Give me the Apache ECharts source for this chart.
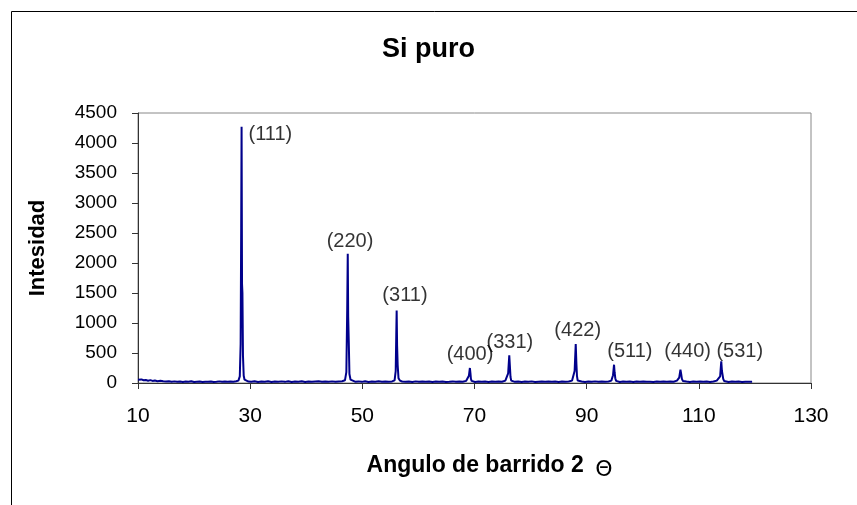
<!DOCTYPE html>
<html>
<head>
<meta charset="utf-8">
<script src="https://cdn.jsdelivr.net/npm/echarts@6/dist/echarts.min.js"></script>
<style>
html,body{margin:0;padding:0;background:#fff;}
#chart{width:857px;height:505px;}
</style>
</head>
<body>
<div id="chart"></div>
<script>
// Scan data: 2θ (degrees) and intensity
var twoTheta = [
 10.0,10.3,10.6,11.0,11.4,11.8,12.2,12.6,13.0,13.5,14.0,14.5,15.0,15.5,16.0,16.5,17.0,17.5,18.0,18.5,
 19.0,19.5,20.0,20.5,21.0,21.5,22.0,22.5,23.0,23.5,24.0,24.5,25.0,25.5,26.0,26.5,27.0,27.5,27.9,
 28.15,28.3,28.4,28.47,28.55,28.62,28.72,28.85,29.0,29.3,29.7,
 30.2,30.8,31.4,32.0,32.6,33.2,33.8,34.4,35.0,35.6,36.2,36.8,37.4,38.0,38.6,39.2,39.8,40.4,41.0,41.6,
 42.2,42.8,43.4,44.0,44.6,45.2,45.8,46.4,46.9,
 47.15,47.3,47.4,47.48,47.58,47.7,47.9,48.2,48.7,49.3,49.9,50.5,51.1,51.7,52.3,52.9,53.5,54.1,54.7,55.3,55.75,
 55.95,56.05,56.12,56.2,56.3,56.45,56.7,57.1,57.7,58.3,58.9,59.5,60.1,60.7,61.3,61.9,62.5,63.1,63.7,
 64.3,64.9,65.5,66.1,66.7,67.3,67.9,68.5,69.0,
 69.18,69.28,69.36,69.48,69.7,70.1,70.7,71.3,71.9,72.5,73.1,73.7,74.3,74.9,75.5,76.0,
 76.2,76.33,76.42,76.55,76.8,77.2,77.8,78.4,79.0,79.6,80.2,80.8,81.4,82.0,82.6,83.2,83.8,84.4,85.0,
 85.6,86.2,86.8,87.4,87.85,
 88.05,88.17,88.27,88.4,88.7,89.1,89.7,90.3,90.9,91.5,92.1,92.7,93.3,93.9,94.4,94.7,
 94.88,94.98,95.1,95.25,95.5,95.9,96.5,97.1,97.7,98.3,98.9,99.5,100.1,100.7,101.3,101.9,102.5,103.1,
 103.7,104.3,104.9,105.5,106.1,106.5,
 106.72,106.85,106.98,107.15,107.4,107.8,108.4,109.0,109.6,110.2,110.8,111.4,112.0,112.6,113.2,113.8,
 114.0,114.12,114.22,114.35,114.5,114.8,115.3,115.9,116.5,117.1,117.7,118.3,118.9,119.5,120.0
];
var intensity = [
 55,40,60,45,50,38,48,35,42,30,36,28,25,30,22,27,20,26,18,24,
 20,28,18,22,25,17,22,19,26,18,22,27,20,23,19,25,22,28,40,
 110,650,2600,4270,1650,1500,450,120,55,30,24,
 22,28,18,25,20,30,18,24,20,27,19,30,18,25,22,29,18,26,20,24,
 28,19,25,21,27,20,26,30,45,
 180,1200,2155,1100,700,150,55,30,22,27,19,30,18,25,22,28,20,24,19,26,45,
 200,800,1210,620,300,80,40,26,20,24,18,27,20,23,19,26,18,24,
 20,25,18,22,27,19,24,20,35,
 120,250,160,70,35,22,18,25,20,23,18,26,19,24,20,40,
 160,460,250,100,40,24,19,26,18,23,20,27,18,22,25,19,24,20,23,
 18,26,20,24,40,
 200,650,320,120,40,22,26,18,24,20,27,19,23,20,26,40,
 130,305,180,80,35,22,18,25,20,23,18,26,19,24,20,22,18,25,
 20,23,19,26,22,40,
 90,222,150,70,35,20,24,18,25,19,23,20,26,18,24,40,
 110,360,200,190,70,35,22,18,24,20,23,18,22,19,20
];

// Peak annotations (Miller indices) and where their labels sit, in data units
var peakLabels = ['(111)','(220)','(311)','(400)','(331)','(422)','(511)','(440)','(531)'];
var labelX = [33.6, 47.8, 57.6, 69.2, 76.3, 88.4, 97.7, 108.0, 117.3];
var labelY = [4140, 2355, 1455, 472, 672, 872, 522, 522, 522];

var xTicks = {min: 10, max: 130, step: 20};
var yTicks = {min: 0, max: 4500, step: 500};

var lineData = twoTheta.map(function(t, i){ return [t, intensity[i]]; });
var labelData = peakLabels.map(function(n, i){ return {name: n, value: [labelX[i], labelY[i]]}; });

var FONT = '"Liberation Sans", Arial, sans-serif';
var chart = echarts.init(document.getElementById('chart'), null, {renderer: 'canvas'});
chart.setOption({
  animation: false,
  backgroundColor: '#ffffff',
  graphic: [{
    type: 'rect', left: 9, top: 9, z: -10,
    shape: {x: 0, y: 0, width: 1000, height: 1000},
    style: {fill: 'none', stroke: '#000000', lineWidth: 1}
  }],
  title: {
    text: 'Si puro', left: 'center', top: 31,
    textStyle: {fontFamily: FONT, fontSize: 27, fontWeight: 'bold', color: '#000'}
  },
  grid: {
    left: 138, right: 46, top: 113, bottom: 122,
    show: true, borderColor: '#888888', borderWidth: 1, backgroundColor: 'transparent'
  },
  xAxis: {
    type: 'value', min: xTicks.min, max: xTicks.max, interval: xTicks.step,
    name: '{a|Angulo de barrido 2 }{t|Θ}', nameLocation: 'middle', nameGap: 68,
    nameTextStyle: {
      padding: [0, 0, 0, 30],
      rich: {
        a: {fontFamily: FONT, fontSize: 23, fontWeight: 'bold', color: '#000'},
        t: {fontFamily: '"DejaVu Sans", sans-serif', fontSize: 22, fontWeight: 'normal', color: '#000', padding: [8, 0, 0, 5]}
      }
    },
    axisLine: {show: true, onZero: false, lineStyle: {color: '#333', width: 1}},
    axisTick: {show: true, inside: false, length: 6, lineStyle: {color: '#333'}},
    axisLabel: {fontFamily: FONT, fontSize: 21, color: '#000', margin: 23},
    splitLine: {show: false}
  },
  yAxis: {
    type: 'value', min: yTicks.min, max: yTicks.max, interval: yTicks.step,
    name: 'Intesidad', nameLocation: 'middle', nameGap: 89, nameRotate: 90,
    nameTextStyle: {fontFamily: FONT, fontSize: 22, fontWeight: 'bold', color: '#000'},
    axisLine: {show: true, lineStyle: {color: '#333', width: 1}},
    axisTick: {show: true, inside: false, length: 6, lineStyle: {color: '#333'}},
    axisLabel: {fontFamily: FONT, fontSize: 19, color: '#000', margin: 21,
      formatter: function(v){ return String(v); }},
    splitLine: {show: false}
  },
  series: [{
    type: 'line', data: lineData, showSymbol: false, symbol: 'none',
    lineStyle: {color: '#00008B', width: 2}, z: 3
  }, {
    type: 'scatter', data: labelData, symbolSize: 0, z: 4,
    label: {show: true, position: 'inside', formatter: '{b}', fontFamily: FONT, fontSize: 20, color: '#000'}
  }]
});
</script>
</body>
</html>
